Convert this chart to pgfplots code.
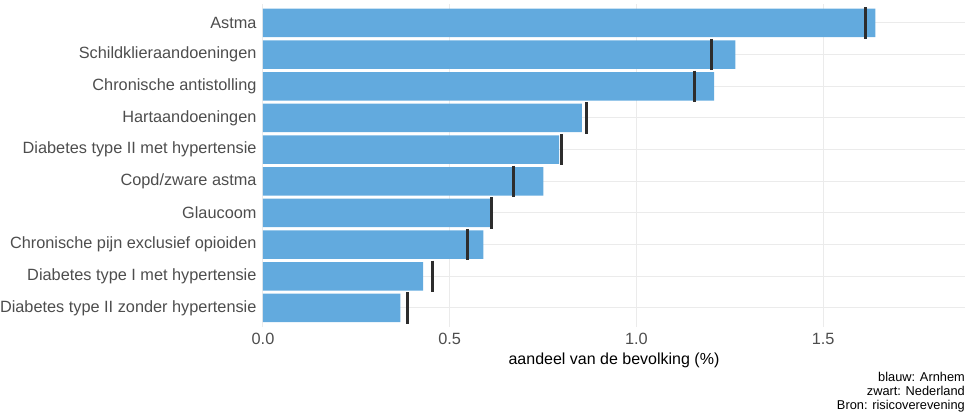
\documentclass[border=0pt]{standalone}
\usepackage{pgfplots}
\pgfplotsset{compat=1.18}
\usepackage{pgfplotstable}
\usepackage{fontspec}
\setmainfont{Liberation Sans}
\definecolor{barblue}{RGB}{98,170,222}
\definecolor{markgray}{RGB}{45,45,45}
\definecolor{gridgray}{RGB}{235,235,235}
\definecolor{labgray}{RGB}{77,77,77}
\pgfplotstableread{
y arnhem nl
1  0.368 0.388
2  0.429 0.453
3  0.590 0.548
4  0.609 0.613
5  0.751 0.672
6  0.793 0.800
7  0.854 0.866
8  1.208 1.155
9  1.265 1.202
10 1.640 1.614
}\datatable
\begin{document}
\begin{tikzpicture}
\useasboundingbox (0,0) rectangle (967pt,414pt);
\begin{axis}[
  at={(263pt,87pt)}, anchor=south west,
  scale only axis, width=702pt, height=323pt,
  xmin=0, xmax=1.88, ymin=0.4, ymax=10.6,
  axis line style={draw=none},
  tick style={draw=none},
  xtick={0,0.5,1,1.5}, xticklabels={0.0,0.5,1.0,1.5},
  ytick={1,...,10},
  yticklabels={Diabetes type II zonder hypertensie, Diabetes type I met hypertensie, Chronische pijn exclusief opioiden, Glaucoom, Copd/zware astma, Diabetes type II met hypertensie, Hartaandoeningen, Chronische antistolling, Schildklieraandoeningen, Astma},
  xmajorgrids, ymajorgrids,
  grid style={gridgray, line width=1pt},
  ticklabel style={font=\fontsize{16.3}{18}\selectfont, text=labgray},
  yticklabel style={xshift=-3pt},
  xticklabel style={yshift=-3pt},
  xlabel={aandeel van de bevolking (\%)},
  xlabel style={font=\fontsize{16}{18}\selectfont, text=black, yshift=-1pt},
  clip=false,
]
\addplot[xbar, bar width=0.9, fill=barblue, draw=none] table[x=arnhem, y=y] {\datatable};
\addplot[only marks, mark=|, mark size=15.8pt, mark options={line width=3pt, draw=markgray}] table[x=nl, y=y] {\datatable};
\end{axis}
\node[anchor=north east, align=right, font=\fontsize{12.8}{14}\selectfont, inner sep=0pt] at (965pt,42pt) {blauw: Arnhem\\zwart: Nederland\\Bron: risicoverevening};
\end{tikzpicture}
\end{document}
